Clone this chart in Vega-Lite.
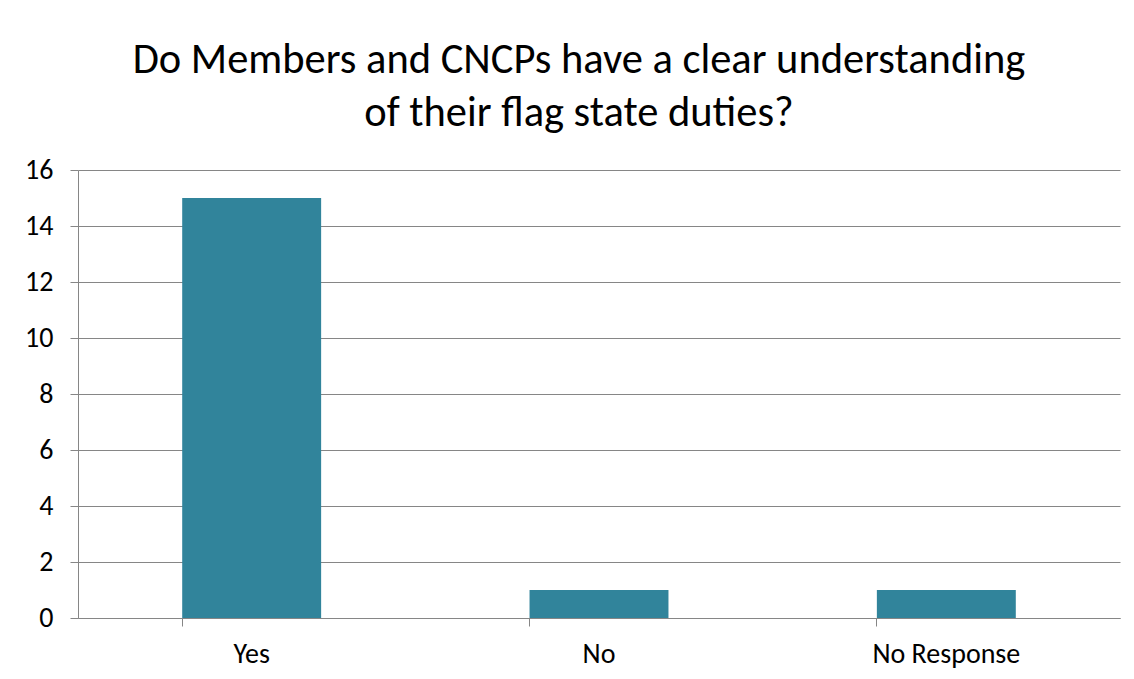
{
  "$schema": "https://vega.github.io/schema/vega-lite/v6.json",
  "autosize": {"type": "none"},
  "padding": {"left": 78, "top": 170, "right": 14, "bottom": 61},
  "width": 1042,
  "height": 448,
  "background": "white",
  "title": {
    "text": ["Do Members and CNCPs have a clear understanding", "of their flag state duties?"],
    "font": "Carlito, Lato",
    "fontSize": 42.5,
    "fontWeight": "normal",
    "color": "#000000",
    "anchor": "middle",
    "lineHeight": 53,
    "dx": -20,
    "offset": 22
  },
  "config": {
    "view": {"stroke": null},
    "axis": {
      "labelFont": "Carlito, Lato",
      "labelColor": "#000000",
      "domainColor": "#868686",
      "tickColor": "#868686",
      "gridColor": "#868686",
      "domainWidth": 1,
      "tickWidth": 1,
      "gridWidth": 1
    }
  },
  "data": {
    "values": [
      {"answer": "Yes", "count": 15},
      {"answer": "No", "count": 1},
      {"answer": "No Response", "count": 1}
    ]
  },
  "mark": {"type": "bar", "color": "#31849B"},
  "encoding": {
    "x": {
      "field": "answer",
      "type": "nominal",
      "sort": ["Yes", "No", "No Response"],
      "scale": {"paddingInner": 0.6, "paddingOuter": 0.3},
      "axis": {
        "title": null,
        "labelAngle": 0,
        "labelFontSize": 28,
        "bandPosition": 0,
        "tickSize": 8,
        "labelPadding": 14,
        "grid": false
      }
    },
    "y": {
      "field": "count",
      "type": "quantitative",
      "scale": {"domain": [0, 16], "nice": false},
      "axis": {
        "title": null,
        "labelFontSize": 28,
        "values": [0, 2, 4, 6, 8, 10, 12, 14, 16],
        "tickSize": 8,
        "labelPadding": 17,
        "grid": true,
        "domain": true
      }
    }
  }
}
